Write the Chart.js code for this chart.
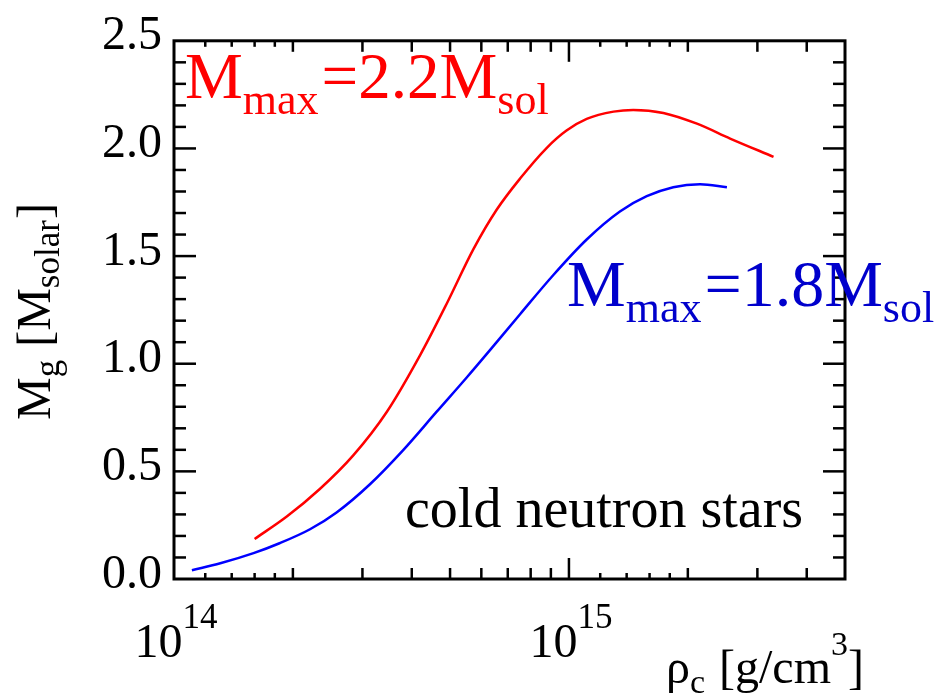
<!DOCTYPE html>
<html>
<head>
<meta charset="utf-8">
<script src="https://cdn.jsdelivr.net/npm/chart.js@4/dist/chart.umd.min.js"></script>
<style>
  html, body { margin: 0; padding: 0; background: #ffffff; }
  #wrap { width: 939px; height: 694px; }
</style>
</head>
<body>
<div id="wrap"><canvas id="c" width="939" height="694"></canvas></div>
<script>
// Central density rho_c [g/cm^3] and gravitational mass M_g [M_solar]
const rhoStiff  = [1.60e14, 1.93e14, 2.34e14, 2.84e14, 3.46e14, 4.20e14, 4.91e14, 5.73e14, 6.56e14, 7.52e14, 8.79e14, 9.86e14, 1.109e15, 1.297e15, 1.455e15, 1.734e15, 2.109e15, 2.559e15, 3.296e15];
const massStiff = [0.186, 0.29, 0.418, 0.573, 0.777, 1.04, 1.281, 1.532, 1.715, 1.86, 2.003, 2.083, 2.137, 2.171, 2.179, 2.165, 2.115, 2.046, 1.961];

const rhoSoft  = [1.11e14, 1.31e14, 1.59e14, 1.85e14, 2.21e14, 2.58e14, 3.13e14, 3.81e14, 4.62e14, 5.51e14, 6.31e14, 7.52e14, 9.12e14, 1.109e15, 1.346e15, 1.574e15, 1.837e15, 2.148e15, 2.512e15];
const massSoft = [0.041, 0.073, 0.12, 0.166, 0.231, 0.309, 0.439, 0.60, 0.776, 0.936, 1.063, 1.23, 1.411, 1.577, 1.707, 1.778, 1.82, 1.834, 1.82];

// Axis ranges and tick positions
const xRange = [1e14, 5e15];
const yRange = [0, 2.5];
const xDecadeLabels = [1e14, 1e15];
const xTicksLong  = [1e15];
const xTicksMid   = [2e14, 3e14, 4e14, 5e14, 6e14, 7e14, 8e14, 9e14, 2e15, 3e15, 4e15];
const xTicksShort = [1.2e14, 1.4e14, 1.6e14, 1.8e14, 1.2e15, 1.4e15, 1.6e15, 1.8e15];
const yTicksMajor = [0.5, 1.0, 1.5, 2.0];
const yTicksMinor = [0.1, 0.2, 0.3, 0.4, 0.6, 0.7, 0.8, 0.9, 1.1, 1.2, 1.3, 1.4, 1.6, 1.7, 1.8, 1.9, 2.1, 2.2, 2.3, 2.4];

const SERIF = '"Liberation Serif", "Times New Roman", Times, serif';

const peakStiff = Math.max(...massStiff).toFixed(1);
const peakSoft  = Math.max(...massSoft).toFixed(1);

function toPoints(xs, ys) { return xs.map((x, i) => ({ x: x, y: ys[i] })); }

// Draws a run of text pieces (normal / sub / superscript) along the baseline
function richText(ctx, x, y, parts, color) {
  ctx.save();
  ctx.fillStyle = color;
  ctx.textBaseline = 'alphabetic';
  ctx.textAlign = 'left';
  let cx = x;
  for (const p of parts) {
    ctx.font = p.size + 'px ' + SERIF;
    ctx.fillText(p.t, cx, y + (p.dy || 0));
    cx += ctx.measureText(p.t).width + (p.gap || 0);
  }
  ctx.restore();
  return cx - x;
}
function richWidth(ctx, parts) {
  let w = 0;
  ctx.save();
  for (const p of parts) { ctx.font = p.size + 'px ' + SERIF; w += ctx.measureText(p.t).width + (p.gap || 0); }
  ctx.restore();
  return w;
}

const framePlugin = {
  id: 'frameAndText',
  afterDraw(chart) {
    const ctx = chart.ctx;
    const a = chart.chartArea;
    const xs = chart.scales.x, ys = chart.scales.y;

    ctx.save();
    ctx.strokeStyle = '#000';
    ctx.lineCap = 'butt';

    // inward tick marks on all four sides
    ctx.lineWidth = 2.5;
    const seg = (x1, y1, x2, y2) => { ctx.beginPath(); ctx.moveTo(x1, y1); ctx.lineTo(x2, y2); ctx.stroke(); };
    const xTick = (v, len) => { const p = xs.getPixelForValue(v); seg(p, a.bottom, p, a.bottom - len); seg(p, a.top, p, a.top + len); };
    const yTick = (v, len) => { const p = ys.getPixelForValue(v); seg(a.left, p, a.left + len, p); seg(a.right, p, a.right - len, p); };
    xTicksShort.forEach(v => xTick(v, 6));
    xTicksMid.forEach(v => xTick(v, 11));
    xTicksLong.forEach(v => xTick(v, 21));
    yTicksMinor.forEach(v => yTick(v, 12));
    yTicksMajor.forEach(v => yTick(v, 22));

    // box
    ctx.lineWidth = 3;
    ctx.strokeRect(a.left, a.top, a.right - a.left, a.bottom - a.top);
    ctx.restore();

    // decade labels 10^n under the x axis
    for (const v of xDecadeLabels) {
      const parts = [{ t: '10', size: 48 }, { t: String(Math.round(Math.log10(v))), size: 35, dy: -29 }];
      const w = richWidth(ctx, parts);
      const p = xs.getPixelForValue(v);
      richText(ctx, p - w / 2 + 2, 657, parts, '#000');
    }

    // x axis title
    richText(ctx, 666, 683, [
      { t: 'ρ', size: 48 }, { t: 'c', size: 34, dy: 10, gap: 2 },
      { t: ' [g/cm', size: 48 }, { t: '3', size: 34, dy: -28 }, { t: ']', size: 48 }
    ], '#000');

    // y axis title (rotated)
    ctx.save();
    ctx.translate(50, 420);
    ctx.rotate(-Math.PI / 2);
    richText(ctx, 0, 0, [
      { t: 'M', size: 48 }, { t: 'g', size: 35, dy: 9, gap: 1 },
      { t: ' [M', size: 48 }, { t: 'solar', size: 35, dy: 9, gap: 1 }, { t: ']', size: 48 }
    ], '#000');
    ctx.restore();

    // annotations
    richText(ctx, 185, 98, [
      { t: 'M', size: 65 }, { t: 'max', size: 44, dy: 16, gap: 3 },
      { t: '=' + peakStiff + 'M', size: 65 }, { t: 'sol', size: 44, dy: 16 }
    ], '#ff0000');
    richText(ctx, 567, 306, [
      { t: 'M', size: 66 }, { t: 'max', size: 44, dy: 16, gap: 3 },
      { t: '=' + peakSoft + 'M', size: 66 }, { t: 'sol', size: 44, dy: 16 }
    ], '#0000cc');
    richText(ctx, 405, 527, [{ t: 'cold neutron stars', size: 56 }], '#000');
  }
};

new Chart(document.getElementById('c'), {
  type: 'scatter',
  data: {
    datasets: [
      {
        label: 'stiff',
        data: toPoints(rhoStiff, massStiff),
        showLine: true,
        borderColor: '#ff0000',
        borderWidth: 2.5,
        pointRadius: 0,
        cubicInterpolationMode: 'monotone',
        fill: false
      },
      {
        label: 'soft',
        data: toPoints(rhoSoft, massSoft),
        showLine: true,
        borderColor: '#0000ff',
        borderWidth: 2.5,
        pointRadius: 0,
        cubicInterpolationMode: 'monotone',
        fill: false
      }
    ]
  },
  options: {
    responsive: false,
    animation: false,
    devicePixelRatio: 1,
    layout: { padding: { top: 32, right: 94, bottom: 0, left: 0 } },
    plugins: { legend: { display: false }, tooltip: { enabled: false } },
    scales: {
      x: {
        type: 'logarithmic',
        min: xRange[0],
        max: xRange[1],
        grid: { display: false, drawTicks: false },
        border: { display: false },
        ticks: { display: false },
        afterFit(scale) { scale.height = 115; }
      },
      y: {
        type: 'linear',
        min: yRange[0],
        max: yRange[1],
        grid: { display: false, drawTicks: false },
        border: { display: false },
        ticks: {
          stepSize: 0.5,
          padding: 12,
          labelOffset: -4,
          color: '#000',
          font: { family: SERIF, size: 48 },
          callback: v => Number(v).toFixed(1)
        },
        afterFit(scale) { scale.width = 174; }
      }
    }
  },
  plugins: [framePlugin]
});
</script>
</body>
</html>
